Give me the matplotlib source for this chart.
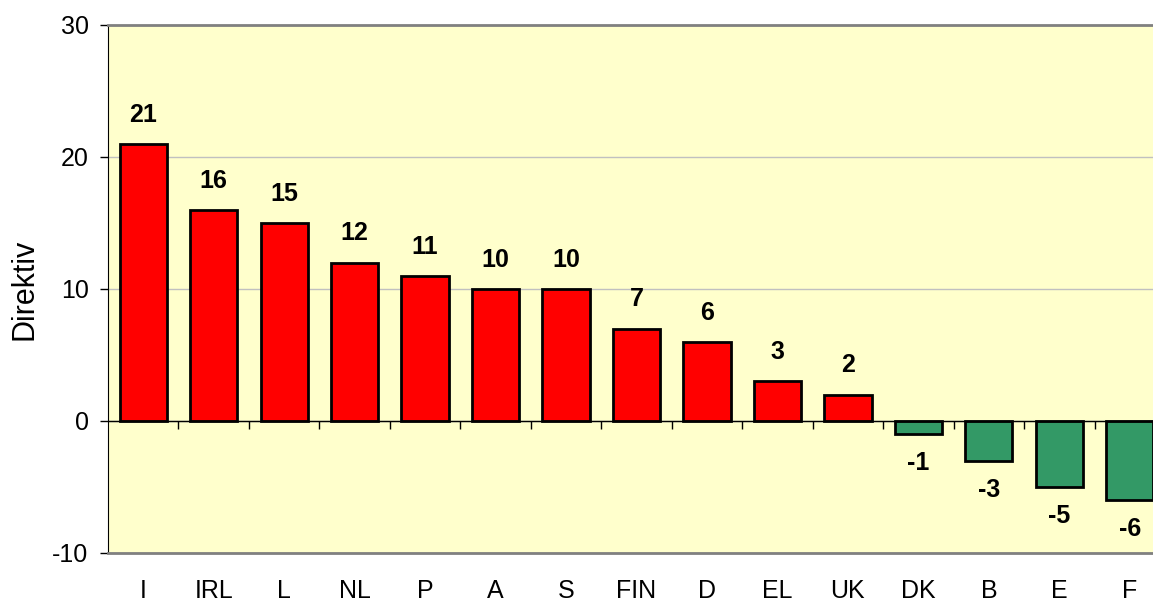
import matplotlib

matplotlib.use("Agg")

import matplotlib.pyplot as plt
import numpy as np

countries = ["I", "IRL", "L", "NL", "P", "A", "S", "FIN", "D", "EL", "UK", "DK", "B", "E", "F"]
values = [21, 16, 15, 12, 11, 10, 10, 7, 6, 3, 2, -1, -3, -5, -6]

plt.rcParams["font.family"] = ["Liberation Sans", "DejaVu Sans"]
plt.rcParams["axes.unicode_minus"] = False

fig = plt.figure(figsize=(11.53, 6.02), dpi=100)
ax = fig.add_axes([108 / 1153, 1 - 553 / 602, 1057 / 1153, 528 / 602])
ax.set_facecolor("#FFFFCC")

x = np.arange(len(countries))
colors = ["#FF0000" if v >= 0 else "#339966" for v in values]
ax.bar(x, values, width=0.67, color=colors, edgecolor="black", linewidth=2, zorder=3)

# zero line and the little separators hanging off it
ax.axhline(0, color="black", linewidth=1, zorder=4)
ax.vlines(x[:-1] + 0.5, -0.6, 0, color="black", linewidth=1, zorder=4)

for xi, v in zip(x, values):
    off = 21 if v >= 0 else -21
    ax.annotate(str(v), (xi, v), xytext=(0, off), textcoords="offset points",
                ha="center", va="center", fontsize=18, fontweight="bold")

ax.set_xlim(-0.5, len(countries) - 0.5)
ax.set_ylim(-10, 30)
ax.set_yticks([-10, 0, 10, 20, 30])
ax.yaxis.grid(True, color="#C0C0C0", linewidth=1, zorder=0)
ax.set_xticks(x)
ax.set_xticklabels(countries, fontsize=18)
ax.tick_params(axis="x", length=0, pad=19)
ax.tick_params(axis="y", length=6, width=1, pad=8, labelsize=18)
ax.set_ylabel("Direktiv", fontsize=22, labelpad=9)

ax.spines["right"].set_visible(False)
ax.spines["top"].set_color("#808080")
ax.spines["top"].set_linewidth(2)
ax.spines["bottom"].set_color("#808080")
ax.spines["bottom"].set_linewidth(2)
ax.spines["left"].set_color("black")

fig.savefig("out.png", dpi=100)
